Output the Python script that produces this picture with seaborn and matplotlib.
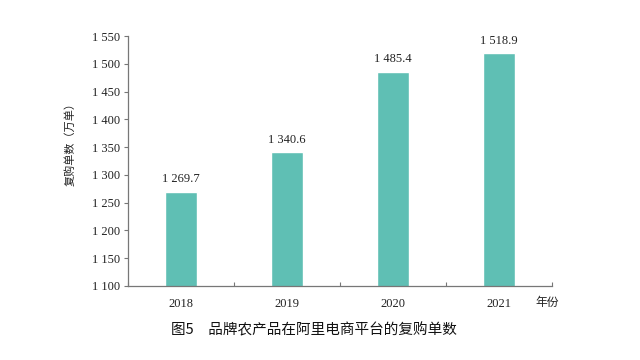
import matplotlib
matplotlib.use("Agg")
import matplotlib.pyplot as plt
import seaborn as sns
import pandas as pd
from matplotlib.ticker import FixedLocator, FuncFormatter

# Repeat-order counts of branded farm products on Alibaba platforms
years = ["2018", "2019", "2020", "2021"]
repeat_orders = [1269.7, 1340.6, 1485.4, 1518.9]
y_ticks = [1100, 1150, 1200, 1250, 1300, 1350, 1400, 1450, 1500, 1550]

sns.set_theme(style="white")
plt.rcParams["font.family"] = ["Liberation Serif", "Noto Sans CJK SC", "DejaVu Sans"]

df = pd.DataFrame({"year": years, "orders": repeat_orders})

fig = plt.figure(figsize=(6.4, 3.6), dpi=100)
ax = fig.add_axes([0.2, 0.2056, 0.6625, 0.6944])

bar_color = "#5fbfb4"
sns.barplot(data=df, x="year", y="orders", order=years, color=bar_color,
            saturation=1, width=0.3, ax=ax)

ax.set_ylim(1100, 1550)
ax.set_xlim(-0.5, 3.5)


def thousands(v, pos=None):
    s = f"{int(round(v)):d}"
    if len(s) > 3:
        s = s[:-3] + " " + s[-3:]
    return s


ax.yaxis.set_major_locator(FixedLocator(y_ticks))
ax.yaxis.set_major_formatter(FuncFormatter(thousands))

# category ticks hidden; small separators between categories
ax.tick_params(axis="x", which="major", length=0, pad=9, labelsize=9, colors="#222222")
ax.xaxis.set_minor_locator(FixedLocator([-0.5, 0.5, 1.5, 2.5, 3.5]))
ax.tick_params(axis="x", which="minor", direction="in", length=3, width=0.8,
               color="#777777", bottom=True)
ax.tick_params(axis="y", which="major", direction="out", length=3, width=0.8,
               color="#777777", left=True, labelsize=9, colors="#222222", pad=3)
ax.tick_params(axis="y", which="major", color="#777777")

for side in ["top", "right"]:
    ax.spines[side].set_visible(False)
for side in ["left", "bottom"]:
    ax.spines[side].set_color("#777777")
    ax.spines[side].set_linewidth(0.9)

ax.set_xlabel("")
ax.set_ylabel("复购单数（万单）", family=["Noto Sans CJK SC", "DejaVu Sans"],
              fontsize=8, color="#222222")
ax.yaxis.set_label_coords(-0.123, 0.576)

# value labels above each bar
for i, v in enumerate(repeat_orders):
    whole, frac = f"{v:.1f}".split(".")
    label = thousands(int(whole)) + "." + frac
    ax.text(i, v + 12, label, ha="center", va="bottom", fontsize=9, color="#222222")

ax.text(3.45, -0.065, "年份", transform=ax.get_xaxis_transform(), ha="center", va="center",
        fontsize=8.5, family=["Noto Sans CJK SC", "DejaVu Sans"], color="#222222")

fig.text(0.49, 0.083, "图5\u3000品牌农产品在阿里电商平台的复购单数", ha="center", va="center",
         fontsize=10.5, family=["Noto Sans CJK SC", "DejaVu Sans"], color="#111111")

fig.savefig("out.png", dpi=100, facecolor="white")
